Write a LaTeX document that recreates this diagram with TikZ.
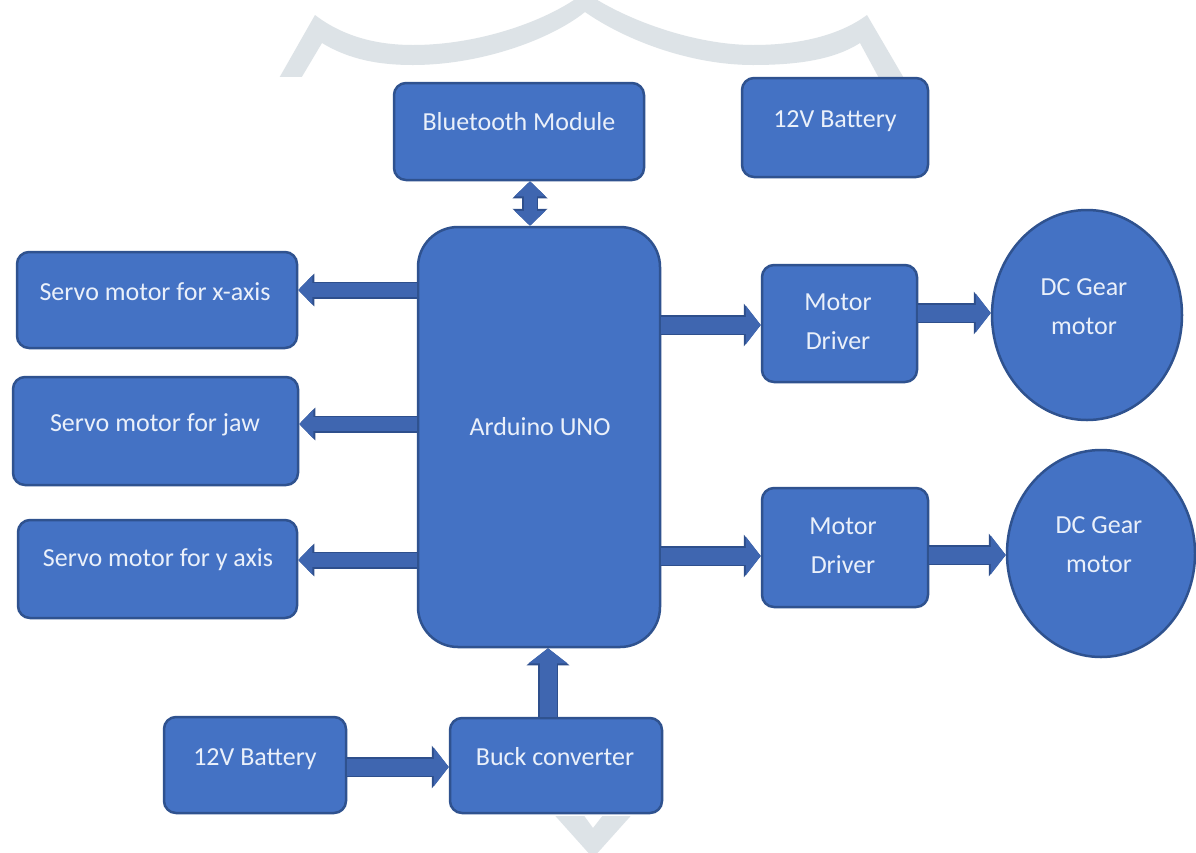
\documentclass[tikz,border=0pt]{standalone}
\usepackage{fontspec}
\setmainfont{Carlito}
\usetikzlibrary{arrows.meta,shapes.geometric}
\definecolor{boxblue}{HTML}{4472C4}
\definecolor{boxedge}{HTML}{2F528F}
\definecolor{arrfill}{HTML}{3F66B0}
\definecolor{arredge}{HTML}{2E4F8C}
\definecolor{txtc}{HTML}{EAF0FA}
\definecolor{wm}{HTML}{DDE3E7}
\newcommand{\lblfont}{\fontsize{26}{39}\selectfont}
\tikzset{
  box/.style={rectangle, rounded corners=12pt, fill=boxblue, draw=boxedge, line width=2.5pt, inner sep=0pt},
  ell/.style={ellipse, fill=boxblue, draw=boxedge, line width=2.5pt, inner sep=0pt},
  lab/.style={text=txtc, font=\lblfont, align=center, inner sep=0pt},
  lab1/.style={lab, text height=17pt, text depth=0pt},
  larr/.style={draw=arrfill, line width=14pt, -{Triangle[length=14pt,width=28pt]},
    preaction={draw=arredge, line width=17pt, -{Triangle[length=16pt,width=32pt]}}},
  rarr/.style={draw=arrfill, line width=17pt, -{Triangle[length=15pt,width=38pt]},
    preaction={draw=arredge, line width=20pt, -{Triangle[length=17pt,width=42pt]}}},
  darr/.style={draw=arrfill, line width=13pt, {Triangle[length=15pt,width=30pt]}-{Triangle[length=15pt,width=30pt]},
    preaction={draw=arredge, line width=16pt, {Triangle[length=17pt,width=34pt]}-{Triangle[length=17pt,width=34pt]}}}
}
\begin{document}
\begin{tikzpicture}[x=1pt,y=-1pt]
\useasboundingbox[fill=white] (0,0) rectangle (1196,852);

% watermark (top)
\begin{scope}
\clip (0,0) rectangle (1196,76);
\fill[wm] (278,80) -- (315,15) .. controls (345,38) and (380,45) .. (413,45)
  .. controls (480,45) and (550,20) .. (585,-8)
  .. controls (625,20) and (695,45) .. (753,45)
  .. controls (800,45) and (840,35) .. (867,15) -- (905,80) -- (880,80) -- (860,43)
  .. controls (835,59) and (800,65) .. (753,65)
  .. controls (690,65) and (625,40) .. (585,12)
  .. controls (550,40) and (480,65) .. (413,65)
  .. controls (380,65) and (350,60) .. (322,43) -- (300,80) -- cycle;
\end{scope}
% watermark (bottom)
\begin{scope}
\clip (0,816) rectangle (1196,852);
\fill[wm] (550,810) -- (593,858) -- (636,810) -- (607,810) -- (593,828) -- (580,810) -- cycle;
\end{scope}

% nodes
\node[box, minimum width=250pt, minimum height=97pt] (bt) at (519,131.5) {};
\node[box, minimum width=186pt, minimum height=99pt] (bat1) at (835,127.5) {};
\node[box, rounded corners=40pt, minimum width=242pt, minimum height=420pt] (ard) at (539,437) {};
\node[box, minimum width=280pt, minimum height=96pt] (sx) at (157,300) {};
\node[box, minimum width=285pt, minimum height=108pt] (sj) at (155.5,431) {};
\node[box, minimum width=279pt, minimum height=98pt] (sy) at (157.5,569) {};
\node[box, minimum width=155pt, minimum height=117pt] (md1) at (839.5,323.5) {};
\node[box, minimum width=166pt, minimum height=119pt] (md2) at (845,547.5) {};
\node[ell, minimum width=190pt, minimum height=210pt] (dc1) at (1087,315) {};
\node[ell, minimum width=188pt, minimum height=207pt] (dc2) at (1101,553.5) {};
\node[box, minimum width=182pt, minimum height=96pt] (bat2) at (255,765) {};
\node[box, minimum width=212pt, minimum height=95pt] (buck) at (556,765.5) {};

% labels
\node[lab1] (bt-t) at (519,122) {Bluetooth Module};
\node[lab1] (bat1-t) at (835,119) {12V Battery};
\node[lab1] (ard-t) at (540,427) {Arduino UNO};
\node[lab1] (sx-t) at (155,292) {Servo motor for x-axis};
\node[lab1] (sj-t) at (155,423) {Servo motor for jaw};
\node[lab1] (sy-t) at (158,558) {Servo motor for y axis};
\node[lab] (md1-t) at (838,322) {Motor\\Driver};
\node[lab] (md2-t) at (843,546) {Motor\\Driver};
\node[lab] (dc1-t) at (1084,307) {DC Gear\\motor};
\node[lab] (dc2-t) at (1099,545) {DC Gear\\motor};
\node[lab1] (bat2-t) at (255,757) {12V Battery};
\node[lab1] (buck-t) at (555,757) {Buck converter};

% connectors
\draw[larr] (ard.west |- 0,290) -- (sx.east |- 0,290);
\draw[larr] (ard.west |- 0,424) -- (sj.east |- 0,424);
\draw[larr] (ard.west |- 0,560) -- (sy.east |- 0,560);
\draw[rarr] (ard.east |- 0,325) -- (md1.west |- 0,325);
\draw[rarr] (ard.east |- 0,556) -- (md2.west |- 0,556);
\draw[rarr] (md1.east |- 0,313) -- (dc1.west |- 0,313);
\draw[rarr] (md2.east |- 0,555) -- (dc2.west |- 0,555);
\draw[rarr] (bat2.east |- 0,767) -- (buck.west |- 0,767);
\draw[rarr] (buck.north -| 548,0) -- (ard.south -| 548,0);
\draw[darr] (ard.north -| 530,0) -- (bt.south -| 530,0);
\end{tikzpicture}
\end{document}
